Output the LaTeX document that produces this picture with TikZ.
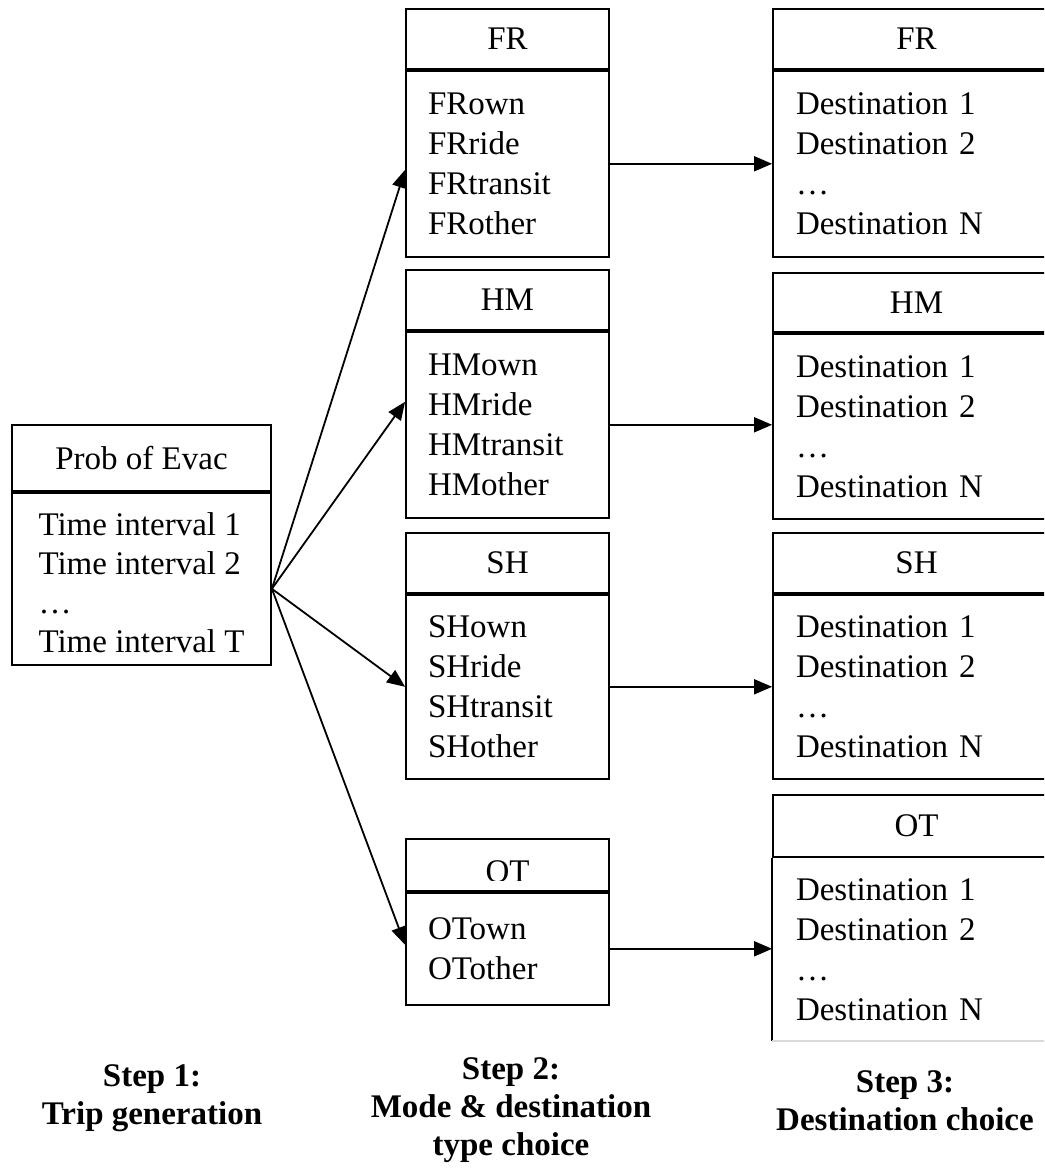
\documentclass[tikz,border=0pt]{standalone}
\usepackage{fontspec}
\setmainfont{Liberation Serif}
\usepackage{tikz}
\usetikzlibrary{arrows.meta,positioning}

\begin{document}
\begin{tikzpicture}[x=1pt,y=-1pt,->,>={Triangle[length=18pt,width=15pt]},line width=1.8pt,
	every node/.style={font=\fontsize{33}{40}\selectfont},
	lefthead/.style={draw,minimum width=259pt,minimum height=66pt,inner sep=0pt},
	leftbody/.style={draw,minimum width=259pt,minimum height=172pt,inner sep=0pt},
	midhead/.style={draw,minimum width=203pt,minimum height=60pt,inner sep=0pt},
	midbody/.style={draw,minimum height=186pt,text width=159pt,inner xsep=22pt,inner ysep=0pt,align=left},
	righthead/.style={draw,minimum width=287pt,minimum height=60pt,inner sep=0pt},
	rightbody/.style={draw,minimum height=186pt,text width=241pt,inner xsep=23pt,inner ysep=0pt,align=left},
	steplabel/.style={font=\bfseries\fontsize{33}{38}\selectfont,align=center}]
	\useasboundingbox (0,0) rectangle (1044,1169);
	\clip (0,0) rectangle (1044,1169);
	% step 1
	\node[lefthead] (evac) at (141.5,458) {Prob of Evac};
	\node[leftbody,below=0pt of evac] (evacb) {};
	\node[align=left,font=\fontsize{33}{39}\selectfont] (evact) at ([yshift=-4pt]evacb.center) {Time interval 1\\Time interval 2\\…\\Time interval T};
	% step 2
	\node[midhead] (frm) at (507.5,39) {FR};
	\node[midbody,below=0pt of frm] (frmb) {FRown\\FRride\\FRtransit\\FRother};
	\node[midhead] (hmm) at (507.5,300) {HM};
	\node[midbody,below=0pt of hmm] (hmmb) {HMown\\HMride\\HMtransit\\HMother};
	\node[midhead] (shm) at (507.5,563) {SH};
	\node[midbody,minimum height=184pt,below=0pt of shm] (shmb) {SHown\\SHride\\SHtransit\\SHother};
	\node[midhead,minimum height=52pt] (otm) at (507.5,865) {};
	\node[midbody,minimum height=112pt,below=0pt of otm] (otmb) {OTown\\OTother};
	\begin{scope}
		\clip (otm.north west) rectangle ([yshift=11pt]otm.south east);
		\node (otmt) at ([yshift=-7pt]otm.center) {OT};
	\end{scope}
	% step 3
	\node[righthead] (frr) at (916.5,39) {FR};
	\node[rightbody,below=0pt of frr] (frrb) {Destination 1\\Destination 2\\…\\Destination N};
	\node[righthead,minimum height=59pt] (hmr) at (916.5,302.5) {HM};
	\node[rightbody,minimum height=185pt,below=0pt of hmr] (hmrb) {Destination 1\\Destination 2\\…\\Destination N};
	\node[righthead] (shr) at (916.5,563) {SH};
	\node[rightbody,minimum height=184pt,below=0pt of shr] (shrb) {Destination 1\\Destination 2\\…\\Destination N};
	\node[righthead,minimum height=62pt] (otr) at (916.5,826) {OT};
	\node[rightbody,draw=none,minimum height=181pt,below=0pt of otr] (otrb) {Destination 1\\Destination 2\\…\\Destination N};
	\draw[-] (otrb.north west) -- (otrb.south west);
	\draw[-,black!15] (otrb.south west) -- (otrb.south east);
	% arrows
	\coordinate (fan) at ([yshift=-10pt]evacb.east);
	\draw (fan) -- ([yshift=-6pt]frmb.west);
	\draw (fan) -- ([yshift=23pt]hmmb.west);
	\draw (fan) -- (shmb.west);
	\draw (fan) -- ([yshift=4pt]otmb.west);
	\foreach \a/\b in {frmb/frrb,hmmb/hmrb,shmb/shrb,otmb/otrb}
		\draw (\a.east) -- (\a.east -| \b.west);
	% labels
	\node[steplabel] (step1) at (152,1098) {Step 1:\\Trip generation};
	\node[steplabel] (step2) at (511,1110) {Step 2:\\Mode \& destination\\type choice};
	\node[steplabel] (step3) at (905,1101) {Step 3:\\Destination choice};
\end{tikzpicture}
\end{document}
